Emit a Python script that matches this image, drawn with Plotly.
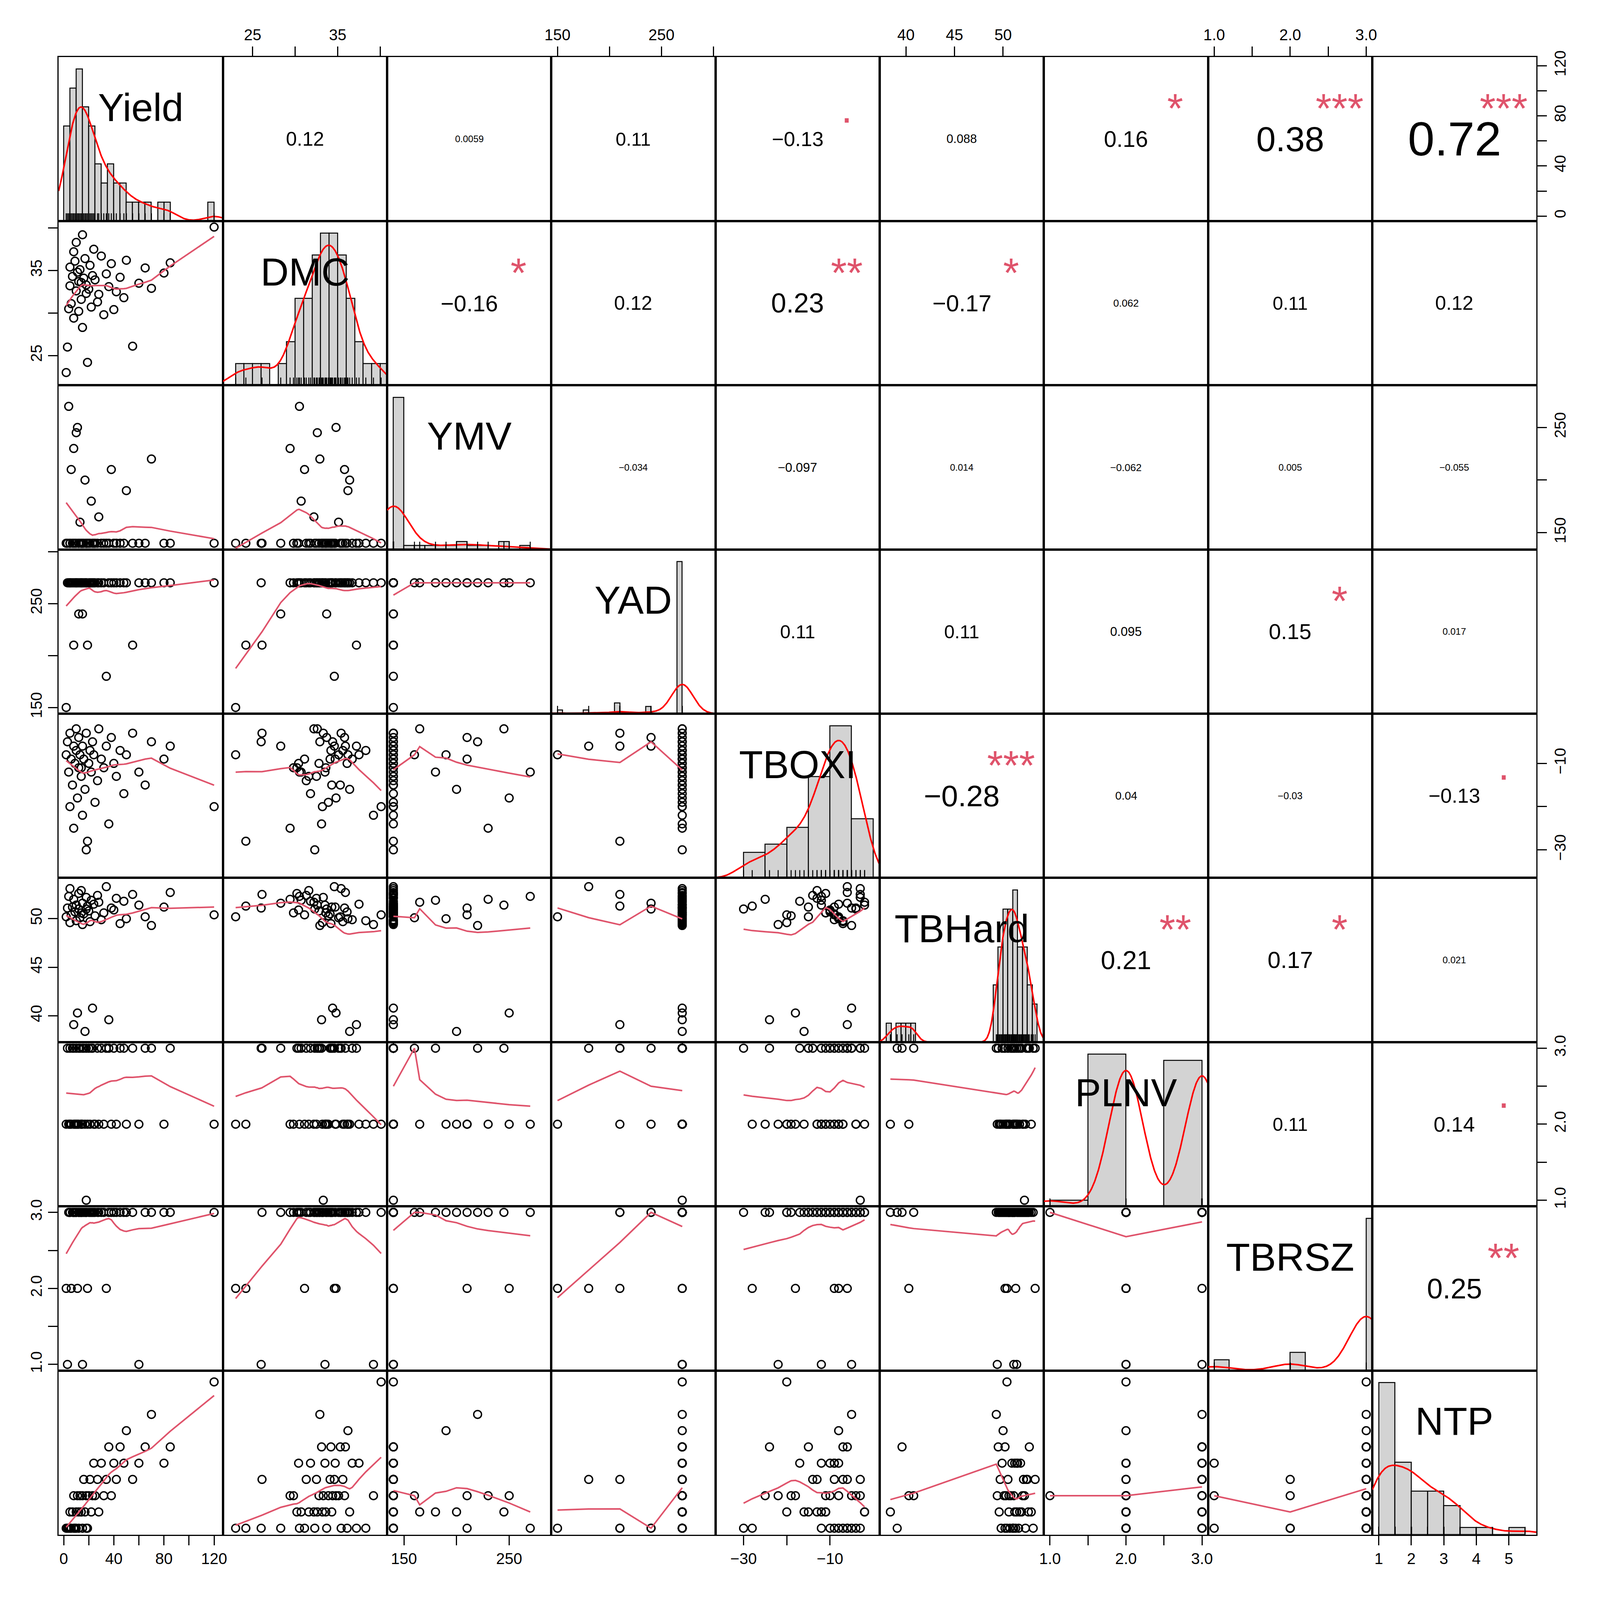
import numpy as np
import plotly.graph_objects as go

names = ["Yield","DMC","YMV","YAD","TBOXI","TBHard","PLNV","TBRSZ","NTP"]
Yield = [2,3,4,5,5,6,7,8,8,9,10,10,11,12,12,13,14,15,15,16,17,18,19,20,21,22,23,24,25,27,28,30,32,34,36,38,40,42,45,48,50,55,60,65,70,80,85,120,18,14]
DMC = [23,26,30.5,33.2,35.4,31.1,34.3,37.2,29.4,36.1,32.6,38.3,34.8,30.2,33.7,35.1,31.6,39.2,28.3,34.1,36.4,33.3,24.2,32.8,35.6,30.7,34.4,37.5,33.9,31.3,32.2,36.7,29.8,34.6,33.1,35.8,30.4,32.5,34.2,31.8,36.2,26.1,33.5,35.3,32.9,34.7,35.9,40.1,32.3,33.6]
YMV = [140,140,270,140,140,210,140,140,230,140,245,140,250,140,140,160,140,140,140,140,200,140,140,140,140,180,140,140,140,140,165,140,140,140,140,210,140,140,140,140,190,140,140,140,220,140,140,140,140,140]
YAD = [150,270,270,270,270,270,270,210,270,270,270,270,270,270,240,270,270,270,240,270,270,270,210,270,270,270,270,270,270,270,270,270,270,180,270,270,270,270,270,270,270,210,270,270,270,270,270,270,270,270]
TBOXI = [-8,-5,-12,-20,-3,-9,-15,-6,-25,-10,-2,-7,-18,-11,-4,-8,-13,-22,-6,-9,-16,-3,-28,-10,-7,-12,-5,-8,-19,-14,-2,-9,-11,-6,-24,-4,-10,-13,-7,-17,-8,-3,-12,-15,-5,-9,-6,-20,-30,-11]
TBHard = [50.2,51.1,52.3,49.6,53.1,50.4,51.2,39.1,52.0,50.7,51.4,49.8,40.3,52.6,51.0,50.1,52.9,49.4,51.6,50.5,38.4,52.2,51.3,50.8,49.7,51.9,40.8,51.5,50.3,52.4,51.7,49.9,50.6,53.3,39.6,51.1,50.9,52.1,49.5,51.8,50.0,52.5,51.4,50.2,49.3,51.2,52.7,50.4,51.0,50.6]
PLNV = [2,3,2,2,3,2,3,3,2,2,3,2,2,3,2,3,2,2,3,3,2,1,2,3,2,3,3,2,2,3,2,3,2,3,3,2,3,2,3,3,2,3,2,3,3,2,3,2,3,2]
TBRSZ = [2,1,3,3,3,2,3,3,3,3,3,3,2,3,3,3,3,1,3,3,3,3,2,3,3,3,3,3,3,3,3,3,3,2,3,3,3,3,3,3,3,3,1,3,3,3,3,3,3,3]
NTP = [1,1,1,1.5,1,1,1.5,1,2,1,1.5,1,2,1.5,1,2,1.5,2,1,2.5,1.5,2,1,2,2.5,1.5,2,3,2,2.5,1.5,3,2,2.5,3.5,2,3,2.5,3.5,3,4,2.5,3,3.5,4.5,3,3.5,5.5,1,1.5]
data = [Yield,DMC,YMV,YAD,TBOXI,TBHard,PLNV,TBRSZ,NTP]

cor_vals = {(0,1):"0.12",(0,2):"0.0059",(0,3):"0.11",(0,4):"-0.13",(0,5):"0.088",(0,6):"0.16",(0,7):"0.38",(0,8):"0.72",
            (1,2):"-0.16",(1,3):"0.12",(1,4):"0.23",(1,5):"-0.17",(1,6):"0.062",(1,7):"0.11",(1,8):"0.12",
            (2,3):"-0.034",(2,4):"-0.097",(2,5):"0.014",(2,6):"-0.062",(2,7):"0.005",(2,8):"-0.055",
            (3,4):"0.11",(3,5):"0.11",(3,6):"0.095",(3,7):"0.15",(3,8):"0.017",
            (4,5):"-0.28",(4,6):"0.04",(4,7):"-0.03",(4,8):"-0.13",
            (5,6):"0.21",(5,7):"0.17",(5,8):"0.021",
            (6,7):"0.11",(6,8):"0.14",(7,8):"0.25"}
stars = {(0,4):".",(0,6):"*",(0,7):"***",(0,8):"***",(1,2):"*",(1,4):"**",(1,5):"*",
         (3,7):"*",(4,5):"***",(4,8):".",(5,6):"**",(5,7):"*",(6,8):".",(7,8):"**"}

ranges = [[-4,127],[21.5,40.8],[134,290],[144,302],[-36.5,1.5],[37.3,54.2],[0.92,3.08],[0.92,3.08],[0.8,5.85]]
tickv = [[0,20,40,60,80,100,120],[25,30,35,40],[150,200,250],[150,200,250,300],[-30,-20,-10],[40,45,50],
         [1.0,1.5,2.0,2.5,3.0],[1.0,1.5,2.0,2.5,3.0],[1,2,3,4,5]]
tickt = [["0","","40","","80","","120"],["25","","35",""],["150","","250"],["150","","250",""],["\u221230","","\u221210"],
         ["40","45","50"],["1.0","","2.0","","3.0"],["1.0","","2.0","","3.0"],["1","2","3","4","5"]]
binw = [5,1,10,5,5,0.5,0.5,0.2,0.5]

X0, X1, Y1, Y0 = 0.0302, 0.9427, 0.971, 0.055
n = 9
pw = (X1-X0)/n; ph = (Y1-Y0)/n
FS = 40
fig = go.Figure()
LO = "#DF536B"

def lowess(x, y, f=2/3):
    x = np.asarray(x, float); y = np.asarray(y, float)
    o = np.argsort(x); x = x[o]; y = y[o]
    r = int(np.ceil(f*len(x)))
    xs = np.unique(x); out = []
    for xi in xs:
        d = np.abs(x-xi); h = np.sort(d)[r-1] + 1e-9
        w = np.clip(1-(d/h)**3, 0, 1)**3
        W = w.sum(); mx = (w*x).sum()/W; my = (w*y).sum()/W
        v = (w*(x-mx)**2).sum()
        b = (w*(x-mx)*(y-my)).sum()/v if v > 1e-12 else 0
        out.append(my + b*(xi-mx))
    return xs, np.array(out)

def ax_common(rng):
    return dict(range=rng, showline=True, mirror=True, linecolor="black", linewidth=3,
                showgrid=False, zeroline=False, ticks="", showticklabels=False)

for r in range(n):
    for c in range(n):
        k = r*n+c+1
        xa = "x" if k == 1 else f"x{k}"; ya = "y" if k == 1 else f"y{k}"
        xdr = f"{xa} domain"; ydr = f"{ya} domain"
        xd = [X0+c*pw, X0+(c+1)*pw]; yd = [Y1-(r+1)*ph, Y1-r*ph]
        xl = dict(ax_common(ranges[c]), domain=xd, anchor=ya)
        yrng = ranges[r]
        if r == c:
            v = np.array(data[r], float)
            b = binw[r]
            lo = np.floor(v.min()/b)*b
            edges = np.arange(lo, v.max()+b*0.999, b)
            if edges[-1] < v.max():
                edges = np.append(edges, edges[-1]+b)
            cnt = np.array([np.sum((v > edges[i]) & (v <= edges[i+1])) + (np.sum(v == edges[0]) if i == 0 else 0)
                            for i in range(len(edges)-1)], float)
            cnt = cnt/(len(v)*b)
            sd = v.std(ddof=1); iq = np.subtract(*np.percentile(v,[75,25]))
            bw = 0.9*min(sd, iq/1.34 if iq > 0 else sd)*len(v)**-0.2
            gx = np.linspace(ranges[r][0], ranges[r][1], 300)
            kd = np.exp(-0.5*((gx[:,None]-v[None,:])/bw)**2).sum(1)/(len(v)*bw*np.sqrt(2*np.pi))
            top = max(cnt.max(), kd.max())
            yrng = [0, top*1.08]
            fig.add_trace(go.Bar(x=(edges[:-1]+edges[1:])/2, y=cnt, width=np.diff(edges), xaxis=xa, yaxis=ya,
                                 marker=dict(color="#D3D3D3", line=dict(color="black", width=2.5)), showlegend=False))
            fig.add_trace(go.Scatter(x=gx, y=kd, mode="lines", line=dict(color="red", width=4), xaxis=xa, yaxis=ya, showlegend=False))
            fig.add_trace(go.Scatter(x=v, y=np.full(len(v), top*0.012), mode="markers", xaxis=xa, yaxis=ya,
                                     marker=dict(symbol="line-ns", size=22, line=dict(color="black", width=2.5)), showlegend=False))
            fig.add_annotation(x=0.5, y=0.83, xref=xdr, yref=ydr, text=names[r],
                               showarrow=False, font=dict(size=100, color="black", family="Liberation Sans"))
        elif r > c:
            fig.add_trace(go.Scatter(x=data[c], y=data[r], mode="markers", xaxis=xa, yaxis=ya, showlegend=False,
                                     marker=dict(symbol="circle-open", size=20, color="black", line=dict(width=3.5))))
            lx, ly = lowess(data[c], data[r])
            fig.add_trace(go.Scatter(x=lx, y=ly, mode="lines", line=dict(color=LO, width=4), xaxis=xa, yaxis=ya, showlegend=False))
        else:
            fig.add_trace(go.Scatter(x=[ranges[c][0]], y=[ranges[r][0]], mode="markers", marker=dict(opacity=0),
                                     xaxis=xa, yaxis=ya, showlegend=False, hoverinfo="skip"))
            t = cor_vals[(r,c)]
            rv = abs(float(t))
            sz = max(24, 145*np.sqrt(rv)) if len(t.lstrip("-")) <= 4 else max(24, 105*np.sqrt(rv))
            fig.add_annotation(x=0.5, y=0.5, xref=xdr, yref=ydr, text=t.replace("-","\u2212"),
                               showarrow=False, font=dict(size=sz, color="black", family="Liberation Sans"))
            if (r,c) in stars:
                s = stars[(r,c)]
                fig.add_annotation(x=0.8, y=0.83, xref=xdr, yref=ydr, text=s, xanchor="center",
                                   showarrow=False, font=dict(size=105, color=LO, family="Liberation Sans"))
        yl = dict(ax_common(yrng), domain=yd, anchor=xa)
        tk = dict(ticks="outside", ticklen=24, tickwidth=3, tickcolor="black", showticklabels=True,
                  tickfont=dict(size=FS, family="Liberation Sans", color="black"))
        if r == 0 and c % 2 == 1:
            xl.update(tk, side="top", tickvals=tickv[c], ticktext=tickt[c])
        if r == n-1 and c % 2 == 0:
            xl.update(tk, side="bottom", tickvals=tickv[c], ticktext=tickt[c])
        if c == 0 and r % 2 == 1:
            yl.update(tk, side="left", tickvals=tickv[r], ticktext=tickt[r], tickangle=-90)
        if c == n-1 and r % 2 == 0 and r != n-1:
            yl.update(tk, side="right", range=ranges[r], tickvals=tickv[r], tickangle=-90, ticktext=tickt[r])
        fig.layout[("xaxis" if k == 1 else f"xaxis{k}")] = xl
        fig.layout[("yaxis" if k == 1 else f"yaxis{k}")] = yl

fig.update_layout(width=4175, height=4159, margin=dict(l=0, r=0, t=0, b=0), bargap=0,
                  plot_bgcolor="white", paper_bgcolor="white", font=dict(family="Liberation Sans"))
fig.write_html("out.html")
